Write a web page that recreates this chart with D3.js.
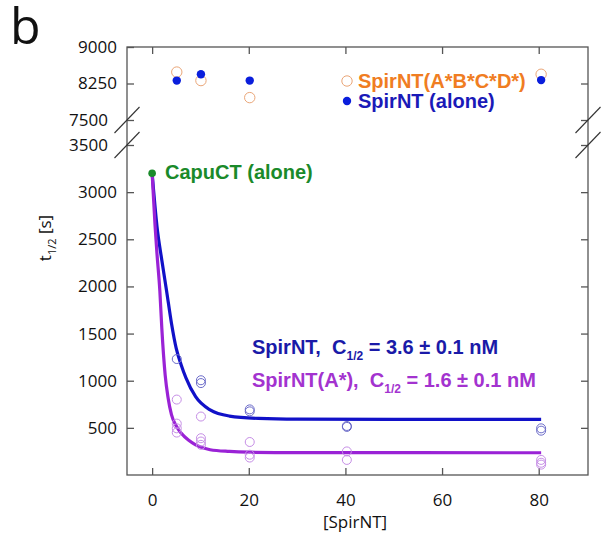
<!DOCTYPE html>
<html>
<head>
<meta charset="utf-8">
<script src="https://cdn.jsdelivr.net/npm/d3@7"></script>
<style>
  body { margin: 0; background: #fff; }
  .tick text { font-family: 'Open Sans', sans-serif; font-size: 17px; fill: #111; }
  .tick line { stroke: #555; stroke-width: 1.3; }
  .lbl { font-family: 'Liberation Sans', Arial, sans-serif; font-weight: bold; font-size: 20px; }
</style>
</head>
<body>
<svg id="chart"></svg>
<script>
// Top panel (above the axis break): SpirNT alone and SpirNT(A*B*C*D*)
const aloneX = [5.1, 10.1, 20.2, 80.5]
const aloneT = [8310, 8440, 8310, 8320]
const quadX = [5.1, 10.1, 20.2, 80.5]
const quadT = [8485, 8310, 7960, 8440]

// Lower panel: measured half-times
const spirX = [5.1, 10.1, 10.1, 20.2, 20.2, 40.3, 40.3, 80.5, 80.5]
const spirT = [1230, 1005, 975, 696, 675, 520, 510, 495, 470]
const aStarX = [5.1, 5.1, 5.1, 5.1, 10.1, 10.1, 10.1, 10.1, 20.2, 20.2, 20.2, 40.3, 40.3, 80.5, 80.5, 80.5]
const aStarT = [800, 545, 495, 450, 620, 390, 355, 320, 350, 215, 185, 250, 160, 160, 130, 110]

// CapuCT alone
const capuX = [0]
const capuT = [3200]

// Fitted curves
const fitSpirX = [0, 1, 2, 3, 4, 5, 6, 7, 9, 12, 16, 22, 30, 50, 80.5]
const fitSpirT = [3200, 2640, 2280, 1950, 1610, 1340, 1170, 1030, 830, 690, 625, 600, 592, 590, 590]
const fitAStarX = [0, 0.6, 1, 1.6, 2, 2.7, 3.3, 4, 5, 6, 7.5, 9, 12, 16, 20, 30, 80.5]
const fitAStarT = [3200, 2650, 2350, 1950, 1560, 1060, 820, 640, 520, 445, 370, 320, 268, 250, 242, 237, 236]

const xTicks = [0, 20, 40, 60, 80]
const yTopTicks = [7500, 8250, 9000]
const yBotTicks = [500, 1000, 1500, 2000, 2500, 3000, 3500]

const W = 603
const H = 544
const plotL = 127
const plotR = 588
const plotT = 47
const breakTop = 120
const breakBot = 145
const plotB = 475

const svg = d3.select('#chart').attr('width', W).attr('height', H)

const x = d3.scaleLinear().domain([-5.2, 90.2]).range([plotL, plotR])
const yTop = d3.scaleLinear().domain([7500, 9000]).range([breakTop, plotT])
const yBot = d3.scaleLinear().domain([0, 3500]).range([plotB, breakBot])
const fmt = d3.format('d')

// Frame
const axisColor = '#555'
svg.append('rect')
  .attr('x', plotL).attr('y', plotT)
  .attr('width', plotR - plotL).attr('height', plotB - plotT)
  .attr('fill', 'none').attr('stroke', axisColor).attr('stroke-width', 1.3)

// Axes (ticks pointing inward)
svg.append('g')
  .attr('transform', `translate(0, ${plotB})`)
  .call(d3.axisBottom(x).tickValues(xTicks).tickFormat(fmt).tickSizeInner(-7).tickSizeOuter(0).tickPadding(19))
  .call(g => g.select('.domain').remove())

svg.append('g')
  .attr('transform', `translate(0, ${plotT})`)
  .call(d3.axisTop(x).tickValues(xTicks).tickSizeInner(-7).tickSizeOuter(0).tickFormat(''))
  .call(g => g.select('.domain').remove())

svg.append('g')
  .attr('transform', `translate(${plotL}, 0)`)
  .call(d3.axisLeft(yTop).tickValues(yTopTicks).tickFormat(fmt).tickSizeInner(-7).tickSizeOuter(0).tickPadding(10))
  .call(g => g.select('.domain').remove())
  .call(g => g.selectAll('.tick').filter(d => d === 7500).select('text').attr('x', -19))

svg.append('g')
  .attr('transform', `translate(${plotL}, 0)`)
  .call(d3.axisLeft(yBot).tickValues(yBotTicks).tickFormat(fmt).tickSizeInner(-7).tickSizeOuter(0).tickPadding(10))
  .call(g => g.select('.domain').remove())
  .call(g => g.selectAll('.tick').filter(d => d === 3500).select('text').attr('x', -19))

svg.append('g')
  .attr('transform', `translate(${plotR}, 0)`)
  .call(d3.axisRight(yTop).tickValues([7500, 8250]).tickSizeInner(-7).tickSizeOuter(0).tickFormat(''))
  .call(g => g.select('.domain').remove())

svg.append('g')
  .attr('transform', `translate(${plotR}, 0)`)
  .call(d3.axisRight(yBot).tickValues(yBotTicks).tickSizeInner(-7).tickSizeOuter(0).tickFormat(''))
  .call(g => g.select('.domain').remove())

// Axis break marks
const breaks = svg.append('g').attr('stroke', '#333').attr('stroke-width', 1.1)
;[plotL, plotR].forEach(bx => {
  ;[breakTop, breakBot].forEach(by => {
    breaks.append('line')
      .attr('x1', bx - 12.5).attr('y1', by + 13)
      .attr('x2', bx + 12.5).attr('y2', by - 13)
  })
})

// Axis titles
svg.append('text')
  .attr('x', 355).attr('y', 528)
  .attr('text-anchor', 'middle')
  .style('font-family', "'Open Sans', sans-serif").style('font-size', '17px').style('fill', '#111')
  .text('[SpirNT]')

const yTitle = svg.append('text')
  .attr('transform', 'translate(51, 238) rotate(-90)')
  .attr('text-anchor', 'middle')
  .style('font-family', "'Open Sans', sans-serif").style('font-size', '17px').style('fill', '#111')
yTitle.append('tspan').text('t')
yTitle.append('tspan').attr('dy', 5).style('font-size', '11px').text('1/2')
yTitle.append('tspan').attr('dy', -5).text(' [s]')

svg.append('text')
  .attr('x', 10).attr('y', 44)
  .style('font-family', "'Open Sans', sans-serif").style('font-size', '50px').style('fill', '#111')
  .text('b')

// Fitted curves
const blueLine = '#1111c8'
const purpleLine = '#9a22d6'
const line = d3.line().curve(d3.curveMonotoneX)

svg.append('path')
  .attr('d', line(fitSpirX.map((v, i) => [x(v), yBot(fitSpirT[i])])))
  .attr('fill', 'none').attr('stroke', blueLine).attr('stroke-width', 3.2)

svg.append('path')
  .attr('d', line(fitAStarX.map((v, i) => [x(v), yBot(fitAStarT[i])])))
  .attr('fill', 'none').attr('stroke', purpleLine).attr('stroke-width', 3.2)

// Measured points, lower panel
svg.append('g').selectAll('circle')
  .data(aStarX.map((v, i) => [v, aStarT[i]]))
  .join('circle')
  .attr('cx', d => x(d[0])).attr('cy', d => yBot(d[1])).attr('r', 4.5)
  .attr('fill', 'none').attr('stroke', '#c68ee6').attr('stroke-width', 1)

svg.append('g').selectAll('circle')
  .data(spirX.map((v, i) => [v, spirT[i]]))
  .join('circle')
  .attr('cx', d => x(d[0])).attr('cy', d => yBot(d[1])).attr('r', 4.5)
  .attr('fill', 'none').attr('stroke', '#6b6bc9').attr('stroke-width', 1)

svg.append('g').selectAll('circle')
  .data(capuX.map((v, i) => [v, capuT[i]]))
  .join('circle')
  .attr('cx', d => x(d[0])).attr('cy', d => yBot(d[1])).attr('r', 3.8)
  .attr('fill', '#1a8a2a')

// Top panel points
svg.append('g').selectAll('circle')
  .data(quadX.map((v, i) => [v, quadT[i]]))
  .join('circle')
  .attr('cx', d => x(d[0])).attr('cy', d => yTop(d[1])).attr('r', 5.2)
  .attr('fill', 'none').attr('stroke', '#eaa678').attr('stroke-width', 1)

svg.append('g').selectAll('circle')
  .data(aloneX.map((v, i) => [v, aloneT[i]]))
  .join('circle')
  .attr('cx', d => x(d[0])).attr('cy', d => yTop(d[1])).attr('r', 4.2)
  .attr('fill', '#0a1edc')

// Legend in top panel
svg.append('circle').attr('cx', 347).attr('cy', 81).attr('r', 5.2)
  .attr('fill', 'none').attr('stroke', '#eaa678').attr('stroke-width', 1)
svg.append('circle').attr('cx', 347).attr('cy', 101).attr('r', 4.2).attr('fill', '#0a1edc')
svg.append('text').attr('class', 'lbl').attr('x', 358).attr('y', 88)
  .style('fill', '#f07d22').text('SpirNT(A*B*C*D*)')
svg.append('text').attr('class', 'lbl').attr('x', 358).attr('y', 108)
  .style('fill', '#1a1ab8').text('SpirNT (alone)')

// Annotations
svg.append('text').attr('class', 'lbl').attr('x', 165).attr('y', 179)
  .style('fill', '#1a8a2a').text('CapuCT (alone)')

function fitLabel (y, name, value, color) {
  const t = svg.append('text').attr('class', 'lbl').attr('x', 252).attr('y', y)
    .style('fill', color)
  t.append('tspan').text(name + ',\u00a0\u00a0C')
  t.append('tspan').attr('dy', 6).style('font-size', '12px').text('1/2')
  t.append('tspan').attr('dy', -6).text(' = ' + value + ' nM')
}
fitLabel(354, 'SpirNT', '3.6 ± 0.1', '#1a1aa8')
fitLabel(387, 'SpirNT(A*)', '1.6 ± 0.1', '#a333cf')
</script>
</body>
</html>
